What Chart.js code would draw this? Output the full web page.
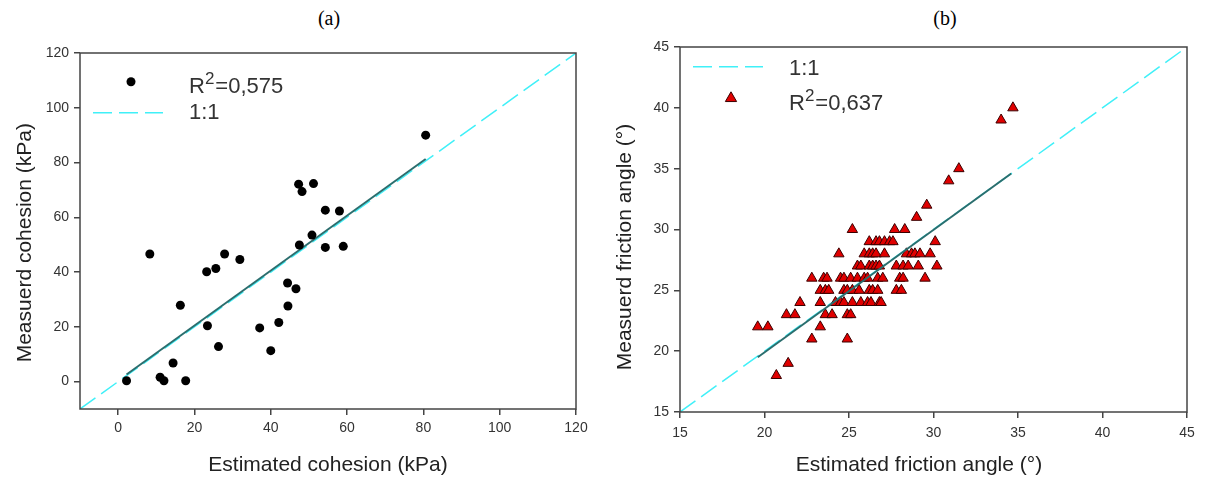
<!DOCTYPE html>
<html>
<head>
<meta charset="utf-8">
<title>Estimated vs measured cohesion and friction angle</title>
<script src="https://cdn.jsdelivr.net/npm/chart.js@4.4.1/dist/chart.umd.min.js"></script>
<style>
body { margin: 0; background: #fff; width: 1205px; height: 480px; overflow: hidden; position: relative; }
.panel { position: absolute; top: 0; }
.tag { position: absolute; top: 8px; font: 20px "Liberation Serif", "Times New Roman", serif; line-height: 1; color: #000; transform: translateX(-50%); }
</style>
</head>
<body>
<div class="tag" style="left:329px">(a)</div>
<div class="tag" style="left:945px">(b)</div>
<canvas id="chartA" class="panel" style="left:0" width="600" height="480"></canvas>
<canvas id="chartB" class="panel" style="left:600px" width="605" height="480"></canvas>
<script>
// (a) cohesion, kPa
var estCohesion  = [80.6, 47.3, 48.2, 51.2, 54.3, 58.0, 50.8, 47.5, 54.3, 59.0, 8.3, 27.9, 31.9, 23.2, 25.6,
                    44.4, 46.6, 44.5, 16.3, 42.1, 23.4, 37.1, 26.3, 40.0, 14.4, 11.0, 12.0, 2.2, 17.7];
var measCohesion = [90.0, 72.1, 69.4, 72.3, 62.6, 62.3, 53.5, 49.9, 49.0, 49.4, 46.6, 46.6, 44.6, 40.1, 41.3,
                    36.0, 33.9, 27.6, 27.9, 21.6, 20.4, 19.6, 12.8, 11.3, 6.8, 1.6, 0.3, 0.3, 0.3];
var fitCohesionX = [2.2, 80.6];
var fitCohesionY = [2.6, 81.3];
var oneToOneA = [-10, 120];

// (b) friction angle, degrees
var estFriction = [
  34.7, 34.0, 31.5, 30.9, 29.6, 29.0,
  25.2, 27.7, 28.3,
  26.2, 26.6, 26.8, 27.1, 27.4, 27.6, 30.1,
  24.4, 25.9, 26.2, 26.4, 26.6, 27.1, 28.4, 28.7, 28.9, 29.2, 29.8,
  25.5, 25.7, 26.2, 26.4, 26.6, 26.8, 27.8, 28.2, 28.5, 29.1, 30.2,
  22.8, 23.5, 23.7, 24.5, 24.7, 25.1, 25.5, 25.9, 26.1, 26.7, 27.0, 28.0, 28.2, 29.5,
  23.3, 23.6, 23.8, 24.7, 24.9, 25.2, 25.6, 26.2, 26.4, 26.7, 27.8, 28.1,
  22.1, 23.3, 24.2, 24.5, 24.7, 25.2, 25.7, 26.1, 26.3, 26.8, 26.9,
  21.3, 21.8, 23.6, 24.0, 24.9, 25.1,
  19.6, 20.2, 23.3,
  22.8, 24.9,
  21.4, 20.7];
var measFriction = [
  40, 39, 35, 34, 32, 31,
  30, 30, 30,
  29, 29, 29, 29, 29, 29, 29,
  28, 28, 28, 28, 28, 28, 28, 28, 28, 28, 28,
  27, 27, 27, 27, 27, 27, 27, 27, 27, 27, 27,
  26, 26, 26, 26, 26, 26, 26, 26, 26, 26, 26, 26, 26, 26,
  25, 25, 25, 25, 25, 25, 25, 25, 25, 25, 25, 25,
  24, 24, 24, 24, 24, 24, 24, 24, 24, 24, 24,
  23, 23, 23, 23, 23, 23,
  22, 22, 22,
  21, 21,
  19, 18];
var fitFrictionX = [19.6, 34.6];
var fitFrictionY = [19.5, 34.6];
var oneToOneB = [15, 45];

var FONT = '"Liberation Sans", Arial, sans-serif';
var CYAN = '#40F0F8';
var TEAL = '#2B6E6E';
Chart.defaults.font.family = FONT;

// Ghép hai mảng x, y thành điểm
function toPoints(xs, ys) {
  return xs.map(function (x, i) { return { x: x, y: ys[i] }; });
}

// Khung bao quanh vùng vẽ và chú thích bên trong
var framePlugin = {
  id: 'frame',
  afterDatasetsDraw: function (chart, args, opts) {
    var ctx = chart.ctx, a = chart.chartArea;
    ctx.save();
    ctx.strokeStyle = '#444';
    ctx.lineWidth = 1.5;
    ctx.strokeRect(a.left, a.top, a.right - a.left, a.bottom - a.top);

    opts.items.forEach(function (it) {
      var y = a.top + it.dy;
      if (it.kind === 'dash') {
        ctx.strokeStyle = CYAN;
        ctx.lineWidth = 1.5;
        ctx.setLineDash([19, 7]);
        ctx.beginPath();
        ctx.moveTo(a.left + 13, y);
        ctx.lineTo(a.left + 83, y);
        ctx.stroke();
        ctx.setLineDash([]);
      } else if (it.kind === 'dot') {
        ctx.fillStyle = '#000';
        ctx.beginPath();
        ctx.arc(a.left + 51, y, 4.5, 0, Math.PI * 2);
        ctx.fill();
      } else if (it.kind === 'tri') {
        var cx = a.left + 51, r = 6.5;
        ctx.fillStyle = '#E00000';
        ctx.strokeStyle = '#3a0000';
        ctx.lineWidth = 1;
        ctx.beginPath();
        ctx.moveTo(cx, y - r);
        ctx.lineTo(cx + r * 0.866, y + r / 2);
        ctx.lineTo(cx - r * 0.866, y + r / 2);
        ctx.closePath();
        ctx.fill();
        ctx.stroke();
      }
      var x = a.left + 109;
      ctx.fillStyle = '#333';
      ctx.textBaseline = 'alphabetic';
      it.text.forEach(function (p) {
        ctx.font = (p.sup ? '17px ' : '22px ') + FONT;
        ctx.fillText(p.t, x, a.top + it.base - (p.sup ? 9 : 0));
        x += ctx.measureText(p.t).width + (p.sup ? 1 : 0);
      });
    });
    ctx.restore();
  }
};

// Cấu hình trục
function makeAxis(min, max, step, title, size, tickPad, titlePad, isX) {
  return {
    type: 'linear',
    min: min,
    max: max,
    border: { display: false },
    grid: { drawOnChartArea: false, drawTicks: true, tickLength: 6, color: '#444', lineWidth: 1.5 },
    ticks: { stepSize: step, includeBounds: false, padding: tickPad, color: '#333', font: { size: 14 } },
    title: { display: true, text: title, color: '#222', font: { size: 21 }, padding: titlePad },
    afterFit: function (scale) {
      if (isX) scale.height = size; else scale.width = size;
    }
  };
}

function renderChart(id, datasets, xAxis, yAxis, pad, legendItems) {
  return new Chart(document.getElementById(id), {
    type: 'scatter',
    data: { datasets: datasets },
    options: {
      responsive: false,
      animation: false,
      events: [],
      layout: { padding: pad },
      scales: { x: xAxis, y: yAxis },
      plugins: { legend: { display: false }, tooltip: { enabled: false }, frame: { items: legendItems } }
    },
    plugins: [framePlugin]
  });
}

renderChart('chartA', [
  { data: toPoints(estCohesion, measCohesion), pointStyle: 'circle', pointRadius: 4.5,
    backgroundColor: '#000', borderColor: '#000', borderWidth: 0 },
  { data: toPoints(fitCohesionX, fitCohesionY), showLine: true, pointRadius: 0, borderColor: TEAL, borderWidth: 2 },
  { data: toPoints(oneToOneA, oneToOneA), showLine: true, pointRadius: 0, borderColor: CYAN, borderWidth: 1.5, borderDash: [19, 7] }
],
  makeAxis(-10, 120, 20, 'Estimated cohesion (kPa)', 71, 5, { bottom: 2 }, true),
  makeAxis(-10, 120, 20, 'Measuerd cohesion (kPa)    ', 80, 5, { top: 13 }, false),
  { left: 0, top: 53, right: 24, bottom: 0 },
  [
    { kind: 'dot', dy: 28.7, base: 40, text: [{ t: 'R' }, { t: '2', sup: true }, { t: '=0,575' }] },
    { kind: 'dash', dy: 59.7, base: 66, text: [{ t: '1:1' }] }
  ]);

renderChart('chartB', [
  { data: toPoints(fitFrictionX, fitFrictionY), showLine: true, pointRadius: 0, borderColor: TEAL, borderWidth: 2 },
  { data: toPoints(estFriction, measFriction), pointStyle: 'triangle', pointRadius: 6,
    backgroundColor: '#E00000', borderColor: '#3a0000', borderWidth: 1 },
  { data: toPoints(oneToOneB, oneToOneB), showLine: true, pointRadius: 0, borderColor: CYAN, borderWidth: 1.5, borderDash: [19, 7] }
],
  makeAxis(15, 45, 5, 'Estimated friction angle (°)     ', 68, 7, { bottom: 2 }, true),
  makeAxis(15, 45, 5, 'Measuerd friction angle (°)      ', 80, 5, { top: 13 }, false),
  { left: 0, top: 47, right: 18, bottom: 0 },
  [
    { kind: 'dash', dy: 19.7, base: 28, text: [{ t: '1:1' }] },
    { kind: 'tri', dy: 51.3, base: 63, text: [{ t: 'R' }, { t: '2', sup: true }, { t: '=0,637' }] }
  ]);
</script>
</body>
</html>
